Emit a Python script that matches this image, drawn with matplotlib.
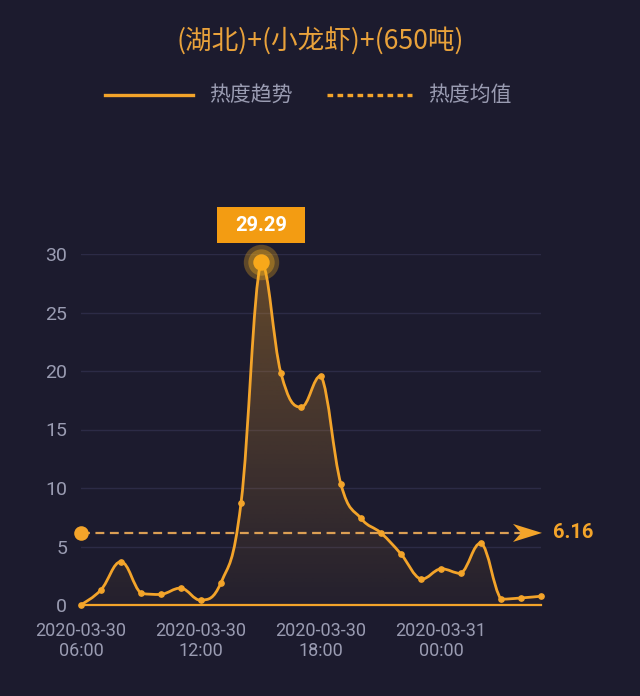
import numpy as np
import matplotlib
matplotlib.use("Agg")
import matplotlib.pyplot as plt
from matplotlib.path import Path
from matplotlib.patches import Rectangle, Polygon, PathPatch
from matplotlib.lines import Line2D

# ---------------- data ----------------
title = "(湖北)+(小龙虾)+(650吨)"
series_name = "热度趋势"
mean_name = "热度均值"
hours = ["06:00", "07:00", "08:00", "09:00", "10:00", "11:00", "12:00", "13:00",
         "14:00", "15:00", "16:00", "17:00", "18:00", "19:00", "20:00", "21:00",
         "22:00", "23:00", "00:00", "01:00", "02:00", "03:00", "04:00", "05:00"]
values = [0.0, 1.3, 3.7, 1.0, 0.9, 1.45, 0.4, 1.9,
          8.7, 29.29, 19.8, 16.9, 19.6, 10.3, 7.4, 6.15,
          4.35, 2.2, 3.1, 2.7, 5.3, 0.5, 0.6, 0.75]
mean_value = 6.16
tick_idx = [0, 6, 12, 18]
tick_labels = ["2020-03-30\n06:00", "2020-03-30\n12:00", "2020-03-30\n18:00", "2020-03-31\n00:00"]
y_ticks = [0, 5, 10, 15, 20, 25, 30]

# ---------------- style ----------------
BG = "#1c1b2e"
ORANGE = "#f3a42a"
TITLE_C = "#e9a23b"
GRAY = "#9a9cb2"
GRID = "#2c2b46"
CJK = ["Noto Sans CJK SC", "DejaVu Sans"]
NUM = ["Roboto", "DejaVu Sans"]

fig = plt.figure(figsize=(6.4, 6.96), dpi=100, facecolor=BG)
W, H = 640, 696
ax = fig.add_axes([81 / W, 1 - 605 / H, 460 / W, (605 - 254) / H])
ax.set_facecolor(BG)

x = np.arange(len(values), dtype=float)
y = np.array(values, dtype=float)
ax.set_xlim(0, len(values) - 1)
ax.set_ylim(0, 30)


def smooth_path(xs, ys, k=0.2):
    n = len(xs)
    verts = [(xs[0], ys[0])]
    codes = [Path.MOVETO]
    for i in range(n - 1):
        a = max(i - 1, 0)
        b = i + 1
        c = min(i + 2, n - 1)
        lo, hi = min(ys[i], ys[b]), max(ys[i], ys[b])
        c1 = (xs[i] + (xs[b] - xs[a]) * k, np.clip(ys[i] + (ys[b] - ys[a]) * k, lo, hi))
        c2 = (xs[b] - (xs[c] - xs[i]) * k, np.clip(ys[b] - (ys[c] - ys[i]) * k, lo, hi))
        verts += [c1, c2, (xs[b], ys[b])]
        codes += [Path.CURVE4] * 3
    return verts, codes


verts, codes = smooth_path(x, y)
line_path = Path(verts, codes)
fill_path = Path(verts + [(x[-1], 0), (x[0], 0), (x[0], 0)],
                 codes + [Path.LINETO, Path.LINETO, Path.CLOSEPOLY])

# gradient fill (top of image = y 30, bottom = y 0)
grad = np.zeros((256, 1, 4))
r, g, b = matplotlib.colors.to_rgb(ORANGE)
grad[..., 0] = r
grad[..., 1] = g
grad[..., 2] = b
grad[:, 0, 3] = np.linspace(0.34, 0.04, 256)
im = ax.imshow(grad, extent=[x[0], x[-1], 0, 30], origin="upper", aspect="auto",
               zorder=1, interpolation="bilinear")
im.set_clip_path(fill_path, ax.transData)
ax.set_xlim(0, len(values) - 1)
ax.set_ylim(0, 30)

# grid
for t in y_ticks[1:]:
    ax.axhline(t, color=GRID, lw=1.0, zorder=0)
ax.axhline(0, color=ORANGE, lw=1.6, zorder=3, clip_on=False)

# curve
ax.add_patch(PathPatch(line_path, fc="none", ec=ORANGE, lw=2.0, zorder=4,
                       clip_on=False, capstyle="round", joinstyle="round"))
ax.plot(x, y, "o", ms=3.8, color=ORANGE, zorder=5, clip_on=False)

# peak
pk = int(np.argmax(y))
ax.scatter([x[pk]], [y[pk]], s=650, color="#f7b21e", alpha=0.30, zorder=6, lw=0, clip_on=False)
ax.scatter([x[pk]], [y[pk]], s=360, color="#f7b21e", alpha=0.35, zorder=6, lw=0, clip_on=False)
ax.scatter([x[pk]], [y[pk]], s=140, color="#f8a81a", zorder=7, lw=0, clip_on=False)

fig.canvas.draw()
px, py = ax.transData.transform((x[pk], y[pk]))
bw, bh = 88, 36
fig.patches.append(Rectangle((px - bw / 2, py + 19), bw, bh, transform=None,
                             fc="#f39c12", ec="none", zorder=10, figure=fig))
fig.text(px / W, (py + 19 + bh / 2) / H, f"{y[pk]:.2f}", ha="center", va="center",
         color="white", fontsize=14.5, fontweight="bold", family=NUM, zorder=11)

# mean line
mx0, my = ax.transData.transform((x[0], mean_value))
mx1, _ = ax.transData.transform((x[-1], mean_value))
ax.plot([x[0], x[-1] - 1.0], [mean_value, mean_value], color="#e6a657", lw=1.6,
        dashes=(4, 2.5), zorder=3, clip_on=False, alpha=0.95)
ax.scatter([x[0]], [mean_value], s=110, color=ORANGE, zorder=8, lw=0, clip_on=False)
tip = mx1 + 1
arrow = Polygon([(tip, my), (tip - 29, my + 9), (tip - 21, my), (tip - 29, my - 9)],
                closed=True, transform=None, fc=ORANGE, ec="none", zorder=9, figure=fig)
fig.patches.append(arrow)
fig.text((tip + 11) / W, my / H, f"{mean_value:.2f}", ha="left", va="center",
         color=ORANGE, fontsize=14.5, fontweight="bold", family=NUM)

# axes styling
for s in ax.spines.values():
    s.set_visible(False)
ax.set_yticks(y_ticks)
ax.set_yticklabels([str(t) for t in y_ticks], family=NUM, fontsize=14, color=GRAY)
ax.set_xticks([x[i] for i in tick_idx])
ax.set_xticklabels(tick_labels, family=NUM, fontsize=13, color=GRAY, linespacing=1.15)
ax.tick_params(axis="y", length=0, pad=10)
ax.tick_params(axis="x", length=0, pad=12)

# title
fig.text(0.5, 1 - 41 / H, title, ha="center", va="center", color=TITLE_C,
         fontsize=19.2, family=CJK)

# legend
ly = 1 - 95 / H
fig.add_artist(Line2D([105 / W, 193 / W], [ly, ly], color=ORANGE, lw=2.4))
fig.text(209 / W, ly, series_name, ha="left", va="center", color=GRAY, fontsize=15, family=CJK)
fig.add_artist(Line2D([327 / W, 412 / W], [ly, ly], color=ORANGE, lw=2.4, dashes=(1.7, 1.3)))
fig.text(428 / W, ly, mean_name, ha="left", va="center", color=GRAY, fontsize=15, family=CJK)

fig.savefig("out.png", dpi=100, facecolor=BG)
